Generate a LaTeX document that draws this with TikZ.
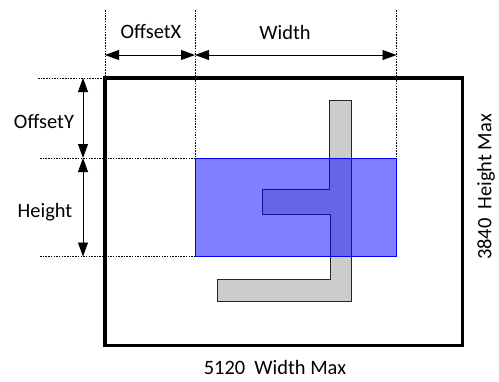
\documentclass[tikz,border=0pt]{standalone}
\usepackage{fontspec}
\setmainfont{Carlito}
\usetikzlibrary{arrows.meta}
\begin{document}
\begin{tikzpicture}[x=1bp,y=-1bp,
  dim/.style={line width=0.8bp,{Triangle[length=14bp,width=10bp]}-{Triangle[length=14bp,width=10bp]}},
  guide/.style={line width=0.7bp,dash pattern=on 1.5bp off 1.2bp},
  lbl/.style={font=\fontsize{20.5}{24}\selectfont, inner sep=0pt},
  shapefill/.style={fill=black!20, draw=black!85, line width=0.9bp},
  roi/.style={fill=blue, fill opacity=0.5, draw=blue, line width=0.9bp},
  frame/.style={draw=black, line width=3.5bp}]
\useasboundingbox (0,0) rectangle (499,381);
% key points
\coordinate (fTL) at (105,78);
\coordinate (fBR) at (462.5,345.5);
\coordinate (rTL) at (195,158);
\coordinate (rBR) at (396.5,256.5);
% gray L shape
\draw[shapefill] (329.5,100) -- (351.5,100) -- (351.5,301) -- (217,301) -- (217,279)
  -- (330,279) -- (330,214) -- (262,214) -- (262,189) -- (329.5,189) -- cycle;
% blue region
\draw[roi] (rTL) rectangle (rBR);
% guide lines
\coordinate (gx1t) at (105,10);
\coordinate (gx2t) at (195,10);
\coordinate (gx3t) at (396.5,10);
\coordinate (gx3b) at (396.5,158);
\coordinate (gy1l) at (38,78);
\coordinate (gy2l) at (40,158);
\coordinate (gy3l) at (40,256.5);
\coordinate (gy3r) at (195,256.5);
\draw[guide] (gx1t) -- (fTL);
\draw[guide] (gx2t) -- (rTL);
\draw[guide] (gx3t) -- (gx3b);
\draw[guide] (gy1l) -- (fTL);
\draw[guide] (gy2l) -- (rTL);
\draw[guide] (gy3l) -- (gy3r);
% frame
\draw[frame] (fTL) rectangle (fBR);
% dimension arrows
\coordinate (ax1) at (105,55);
\coordinate (ax2) at (195,55);
\coordinate (ax3) at (396.5,55);
\coordinate (ay1) at (83,78);
\coordinate (ay2) at (83,158);
\coordinate (ay3) at (83,256.5);
\draw[dim] (ax1) -- (ax2);
\draw[dim] (ax2) -- (ax3);
\draw[dim] (ay1) -- (ay2);
\draw[dim] (ay2) -- (ay3);
% labels
\node[lbl] (loffx) at (151,32) {OffsetX};
\node[lbl] (lwidth) at (285,32) {Width};
\node[lbl] (loffy) at (44,122) {OffsetY};
\node[lbl] (lheight) at (45,212) {Height};
\node[lbl] (lwmax) at (275,367) {5120\ \ Width Max};
\node[lbl, rotate=90] (lhmax) at (486,187) {3840\ \ Height Max};
\end{tikzpicture}
\end{document}
